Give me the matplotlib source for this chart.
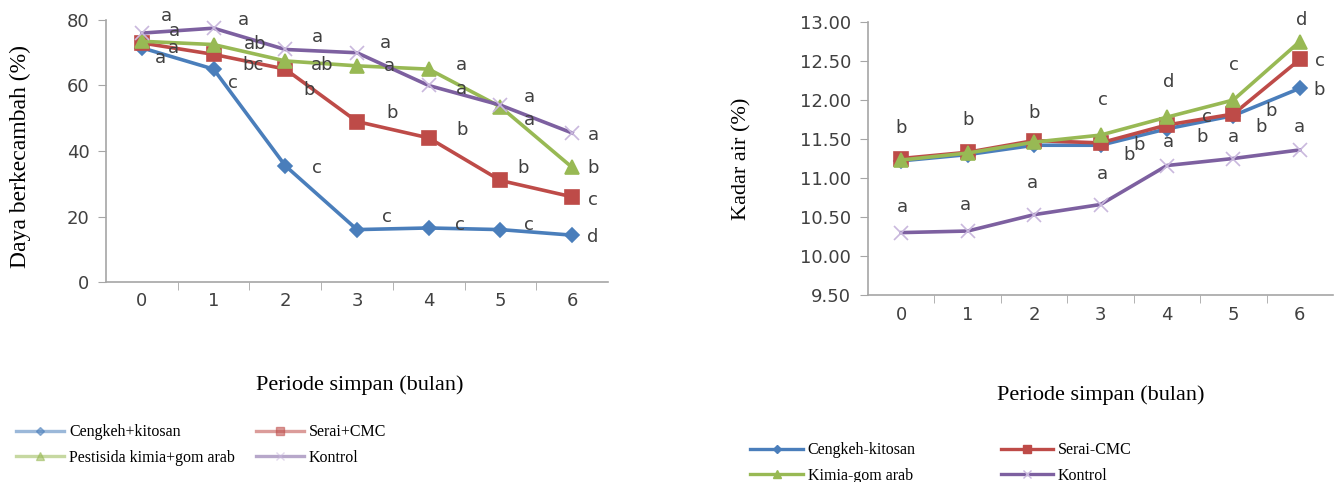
"""Two-panel line chart: germination (left) and moisture content (right) vs storage period."""
import matplotlib

matplotlib.use("Agg")
import matplotlib.pyplot as plt
from matplotlib.lines import Line2D

# ---- data -------------------------------------------------------------
months = [0, 1, 2, 3, 4, 5, 6]

germ_cengkeh = [71.5, 65.0, 35.5, 16.0, 16.5, 16.0, 14.3]
germ_serai = [73.0, 69.5, 65.0, 49.0, 44.0, 31.0, 26.0]
germ_kimia = [73.5, 72.5, 67.5, 66.0, 65.0, 53.5, 35.0]
germ_kontrol = [76.0, 77.5, 71.0, 70.0, 60.0, 54.0, 45.5]

germ_let_cengkeh = ["a", "c", "c", "c", "c", "c", "d"]
germ_let_serai = ["a", "bc", "b", "b", "b", "b", "c"]
germ_let_kimia = ["a", "ab", "ab", "a", "a", "a", "b"]
germ_let_kontrol = ["a", "a", "a", "a", "a", "a", "a"]

moist_cengkeh = [11.22, 11.30, 11.42, 11.42, 11.63, 11.80, 12.15]
moist_serai = [11.25, 11.33, 11.48, 11.45, 11.68, 11.82, 12.52]
moist_kimia = [11.23, 11.32, 11.46, 11.55, 11.78, 12.00, 12.75]
moist_kontrol = [10.30, 10.32, 10.53, 10.66, 11.16, 11.25, 11.36]

moist_let_cengkeh = [None, None, None, "b", "b", "b", "b"]
moist_let_serai = [None, None, None, "b", "c", "b", "c"]
moist_let_kimia = ["b", "b", "b", "c", "d", "c", "d"]
moist_let_kontrol = ["a", "a", "a", "a", "a", "a", "a"]

left_names = ["Cengkeh+kitosan", "Serai+CMC", "Pestisida kimia+gom arab", "Kontrol"]
right_names = ["Cengkeh-kitosan", "Serai-CMC", "Kimia-gom arab", "Kontrol"]

# ---- layout / style ---------------------------------------------------
# letter offsets in pixels (dx, dy up) relative to each point
germ_off = [
    [(19, -10), (19, -14), (32, -2), (30, 13), (31, 3), (29, 5), (21, -2)],
    [(32, -5), (39, -11), (24, -21), (35, 9), (33, 8), (23, 12), (21, -3)],
    [(33, 10), (42, 1), (37, -4), (32, 0), (33, 4), (29, 10), (21, -1)],
    [(25, 17), (30, 8), (32, 12), (28, 10), (33, -3), (29, -15), (21, -2)],
]
moist_off = [
    [None, None, None, (29, -10), (35, -8), (28, -11), (19, -2)],
    [None, None, None, (39, -2), (40, 8), (38, 3), (20, -2)],
    [(0, 32), (0, 33), (0, 29), (2, 35), (2, 35), (1, 35), (2, 21)],
    [(1, 26), (-2, 26), (-2, 32), (2, 31), (2, 24), (0, 21), (0, 23)],
]

COLORS = ["#4A7EBB", "#BE4B48", "#98B954", "#7D60A0"]
MARKERS = ["D", "s", "^", "x"]
MSIZES = [7, 10, 10, 10]
SPINE = "#A6A6A6"
TXT = "#404040"
SERIF = "Liberation Serif"
LEGEND_ORDER = [0, 2, 1, 3]  # row-major fill like the original


def style_axes(ax, ylim, yticks, fmt, tick_pad):
    ax.set_xlim(-0.5, 6.5)
    ax.set_ylim(*ylim)
    ax.set_yticks(yticks)
    ax.set_yticklabels([fmt.format(v) for v in yticks], fontsize=13, color=TXT)
    ax.set_xticks(months)
    ax.set_xticklabels([str(m) for m in months], fontsize=13, color=TXT)
    ax.set_xticks([m + 0.5 for m in months[:-1]], minor=True)
    ax.tick_params(axis="x", which="major", length=0, pad=tick_pad)
    ax.tick_params(axis="x", which="minor", length=6, color=SPINE, direction="out")
    ax.tick_params(axis="y", length=6, color=SPINE, direction="out", pad=6)
    for side in ("top", "right"):
        ax.spines[side].set_visible(False)
    for side in ("left", "bottom"):
        ax.spines[side].set_color(SPINE)
        ax.spines[side].set_linewidth(1.2)


def draw_series(ax, series, letters, offsets):
    for i, ys in enumerate(series):
        mec = "#C9B8DD" if MARKERS[i] == "x" else COLORS[i]
        ax.plot(months, ys, color=COLORS[i], lw=2.6, marker=MARKERS[i],
                ms=MSIZES[i], mfc=COLORS[i], mec=mec, mew=1.2, clip_on=False,
                zorder=3 + i)
        for x, y, lab, off in zip(months, ys, letters[i], offsets[i]):
            if lab is None:
                continue
            ax.annotate(lab, (x, y), xytext=off, textcoords="offset pixels",
                        ha="center", va="center", fontsize=13, color=TXT,
                        zorder=10)


def legend_handles(names, alpha):
    hs = []
    for i, name in enumerate(names):
        mec = "#C9B8DD" if MARKERS[i] == "x" else COLORS[i]
        hs.append(Line2D([], [], color=COLORS[i], lw=2.4, alpha=alpha,
                         marker=MARKERS[i], ms=MSIZES[i] * 0.6, mfc=COLORS[i],
                         mec=mec, label=name))
    return [hs[k] for k in LEGEND_ORDER]


fig = plt.figure(figsize=(13.4, 4.82), dpi=100)

# ---- left panel -------------------------------------------------------
axl = fig.add_axes([106 / 1340, 1 - 282 / 482, 502 / 1340, 262 / 482])
style_axes(axl, (0, 80), [0, 20, 40, 60, 80], "{:.0f}", 7)
draw_series(axl, [germ_cengkeh, germ_serai, germ_kimia, germ_kontrol],
            [germ_let_cengkeh, germ_let_serai, germ_let_kimia, germ_let_kontrol],
            germ_off)
axl.set_ylabel("Daya berkecambah (%)", family=SERIF, fontsize=17)
axl.yaxis.set_label_coords(-0.15, 0.48)
axl.set_xlabel("Periode simpan (bulan)", family=SERIF, fontsize=16)
axl.xaxis.set_label_coords(0.506, -0.355)

# ---- right panel ------------------------------------------------------
axr = fig.add_axes([868 / 1340, 1 - 295 / 482, 465 / 1340, 273 / 482])
style_axes(axr, (9.5, 13.0), [9.5, 10.0, 10.5, 11.0, 11.5, 12.0, 12.5, 13.0],
           "{:.2f}", 8)
draw_series(axr, [moist_cengkeh, moist_serai, moist_kimia, moist_kontrol],
            [moist_let_cengkeh, moist_let_serai, moist_let_kimia, moist_let_kontrol],
            moist_off)
axr.set_ylabel("Kadar air (%)", family=SERIF, fontsize=16)
axr.yaxis.set_label_coords(-0.25, 0.5)
axr.set_xlabel("Periode simpan (bulan)", family=SERIF, fontsize=16)
axr.xaxis.set_label_coords(0.5, -0.33)

# ---- legends ----------------------------------------------------------
fig.legend(handles=legend_handles(left_names, 0.55), loc="upper left",
           bbox_to_anchor=(2 / 1340, 1 - 410 / 482), ncol=2, frameon=False,
           prop={"family": SERIF, "size": 11.5}, handlelength=3.0,
           handletextpad=0.3, columnspacing=1.3, labelspacing=0.6)
fig.legend(handles=legend_handles(right_names, 1.0), loc="upper left",
           bbox_to_anchor=(736 / 1340, 1 - 428 / 482), ncol=2, frameon=False,
           prop={"family": SERIF, "size": 11.5}, handlelength=3.3,
           handletextpad=0.3, columnspacing=5.3, labelspacing=0.6)

fig.savefig("out.png", dpi=100)
